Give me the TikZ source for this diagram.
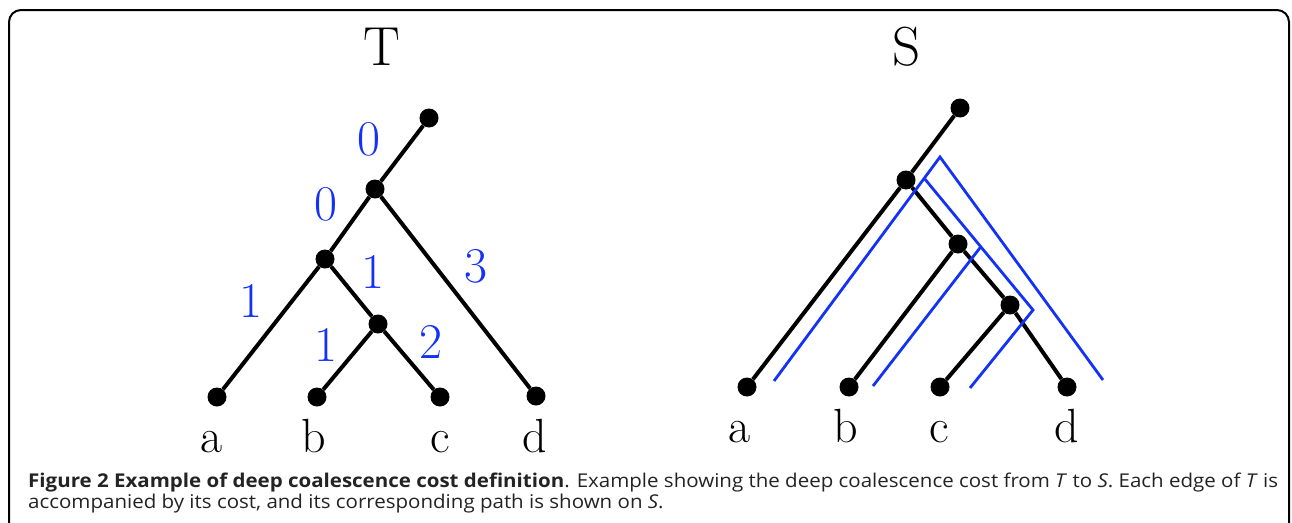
\documentclass[tikz,border=0pt]{standalone}
\usepackage{fontspec}
\usetikzlibrary{calc}
\newfontfamily\capfont{Open Sans}
\definecolor{pathblue}{RGB}{20,50,245}
\definecolor{captext}{RGB}{35,35,35}
\newsavebox\capboxA
\newsavebox\capboxB
\begin{document}
\sbox\capboxA{\capfont\fontsize{19}{20}\selectfont\color{captext}\textbf{Figure 2 Example of deep coalescence cost definition}. Example showing the deep coalescence cost from \textit{T} to \textit{S}. Each edge of \textit{T} is}%
\sbox\capboxB{\capfont\fontsize{19}{20}\selectfont\color{captext}accompanied by its cost, and its corresponding path is shown on \textit{S}.}%
\begin{tikzpicture}[x=1pt,y=-1pt,
  dot/.style={circle,fill=black,inner sep=0pt,minimum size=19pt},
  edge/.style={draw=black,line width=4pt},
  bluepath/.style={draw=pathblue,line width=2.8pt,line join=miter},
  cost/.style={text=pathblue,font=\fontsize{50}{50}\selectfont,inner sep=0pt},
  leaf/.style={font=\fontsize{48}{48}\selectfont,inner sep=0pt,anchor=base},
  title/.style={font=\fontsize{55}{55}\selectfont,inner sep=0pt,anchor=base},
  frame/.style={draw=black,line width=2pt,rounded corners=12pt}]
\useasboundingbox (0,0) rectangle (1292,522);
% frame
\draw[frame] (9,530) -- (9,10) -- (1289,10) -- (1289,530);

% ---------- tree T ----------
\node[title] (Ttitle) at (382,65) {T};
\node[dot] (t0) at (429,118) {};
\node[dot] (t1) at (375,189) {};
\node[dot] (t2) at (325,259) {};
\node[dot] (t3) at (378,324) {};
\node[dot] (ta) at (217,397) {};
\node[dot] (tb) at (317,397) {};
\node[dot] (tc) at (440,397) {};
\node[dot] (td) at (536,396) {};
\draw[edge] (t0) -- (t1);
\draw[edge] (t1) -- (t2);
\draw[edge] (t1) -- (td);
\draw[edge] (t2) -- (ta);
\draw[edge] (t2) -- (t3);
\draw[edge] (t3) -- (tb);
\draw[edge] (t3) -- (tc);
\node[leaf] (tla) at (212,452) {a};
\node[leaf] (tlb) at (314,452) {b};
\node[leaf] (tlc) at (440,452) {c};
\node[leaf] (tld) at (535,452) {d};
\node[cost] (c01) at (369,139) {0};
\node[cost] (c12) at (326,204) {0};
\node[cost] (c2a) at (251,301) {1};
\node[cost] (c23) at (373,272) {1};
\node[cost] (c1d) at (476,266) {3};
\node[cost] (c3b) at (326,345) {1};
\node[cost] (c3c) at (431,342) {2};

% ---------- tree S ----------
\node[title] (Stitle) at (907,65) {S};
\node[dot] (s0) at (960,108) {};
\node[dot] (s1) at (906,180) {};
\node[dot] (s2) at (958,244) {};
\node[dot] (s3) at (1010,305) {};
\node[dot] (sa) at (747,387) {};
\node[dot] (sb) at (849,387) {};
\node[dot] (sc) at (940,387) {};
\node[dot] (sd) at (1067,387) {};
\draw[edge] (s0) -- (s1);
\draw[edge] (s1) -- (sa);
\draw[edge] (s1) -- (s2);
\draw[edge] (s2) -- (sb);
\draw[edge] (s2) -- (s3);
\draw[edge] (s3) -- (sc);
\draw[edge] (s3) -- (sd);
\node[leaf] (sla) at (740,442) {a};
\node[leaf] (slb) at (846,442) {b};
\node[leaf] (slc) at (939,442) {c};
\node[leaf] (sld) at (1067,442) {d};

% blue paths
\coordinate (pa) at (774,381);
\coordinate (pP) at (940,157);
\coordinate (pd) at (1103,380);
\coordinate (pQ) at ($(pa)!0.905!(pP)$);
\coordinate (pR) at (1033,310);
\coordinate (pc) at (970,388);
\coordinate (pb) at (873,386);
\coordinate (pM) at ($(pQ)!0.52!(pR)$);
\draw[bluepath] (pa) -- (pP) -- (pd);
\draw[bluepath] (pQ) -- (pR) -- (pc);
\draw[bluepath] (pb) -- (pM);

% ---------- caption ----------
\pgfmathsetmacro\capsx{1250/\wd\capboxA}
\node[anchor=base west,inner sep=0pt] (capA) at (28,487) {\scalebox{\capsx}[1]{\usebox\capboxA}};
\node[anchor=base west,inner sep=0pt] (capB) at (28,508) {\scalebox{\capsx}[1]{\usebox\capboxB}};
\end{tikzpicture}
\end{document}
